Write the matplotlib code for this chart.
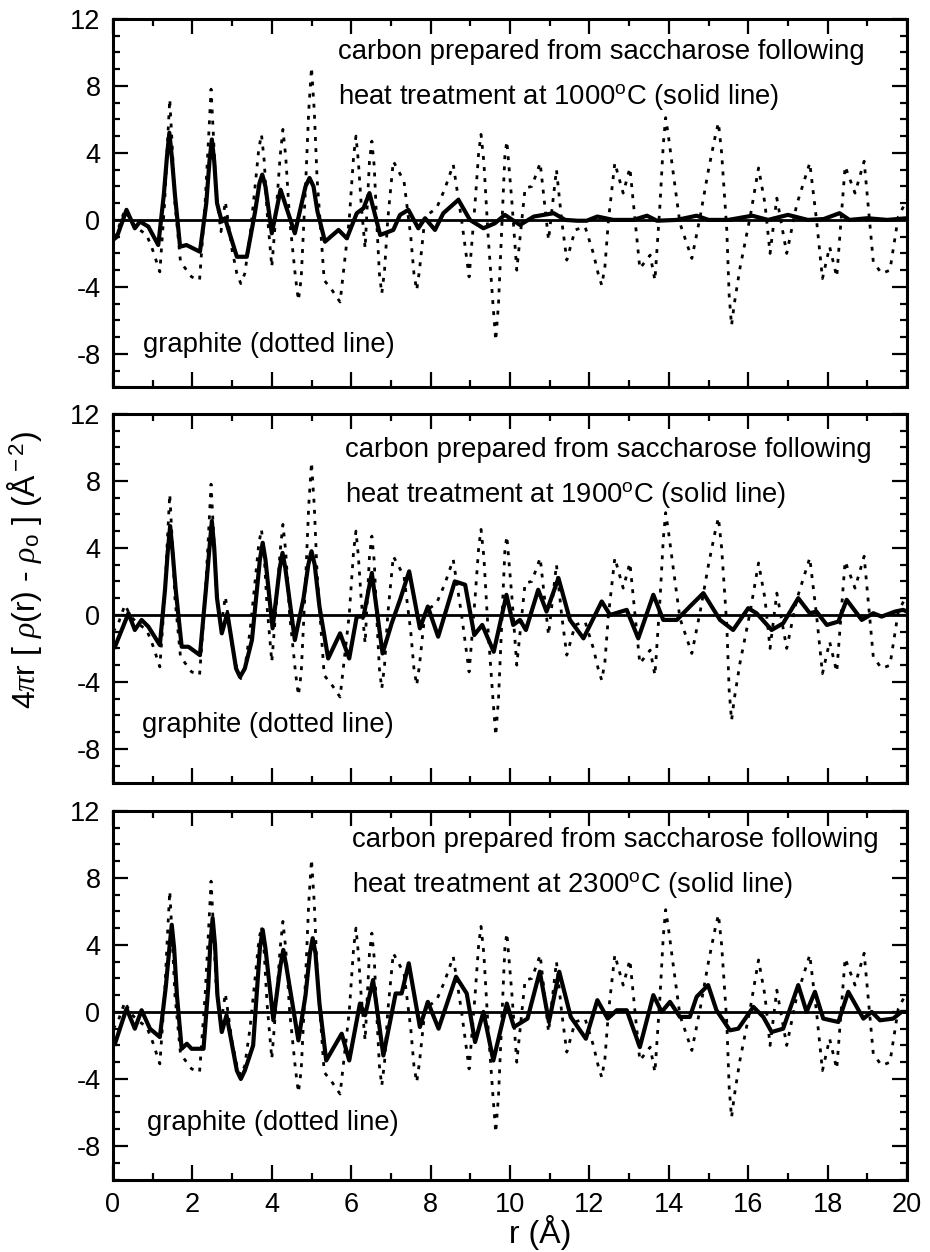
import numpy as np
import matplotlib
matplotlib.use('Agg')
import matplotlib.pyplot as plt
from matplotlib.ticker import MultipleLocator

plt.rcParams['font.family'] = ['Liberation Sans', 'DejaVu Sans']
plt.rcParams['mathtext.fontset'] = 'custom'
plt.rcParams['mathtext.rm'] = 'Liberation Sans'
plt.rcParams['mathtext.it'] = 'Liberation Serif:italic'
plt.rcParams['axes.unicode_minus'] = False

# graphite reference curve (dotted), same in every panel
graphite_r = [0.00, 0.12, 0.30, 0.45, 0.62, 0.85, 1.00, 1.18, 1.30, 1.37, 1.43, 1.49, 1.56, 1.70,
              1.98, 2.18, 2.32, 2.41, 2.47, 2.53, 2.60, 2.72, 2.83, 3.00, 3.12, 3.22, 3.32, 3.45,
              3.60, 3.67, 3.74, 3.81, 3.88, 4.00, 4.12, 4.21, 4.28, 4.35, 4.45, 4.60, 4.67, 4.74,
              4.85, 4.93, 5.00, 5.07, 5.14, 5.32, 5.52, 5.72, 5.95, 6.06, 6.12, 6.18, 6.25, 6.35,
              6.46, 6.52, 6.58, 6.64, 6.71, 6.77, 6.84, 6.92, 7.06, 7.33, 7.50, 7.58, 7.65, 7.72,
              7.86, 8.15, 8.35, 8.57, 8.78, 8.97, 9.12, 9.21, 9.27, 9.34, 9.45, 9.57, 9.64, 9.71,
              9.80, 9.87, 9.92, 10.05, 10.17, 10.38, 10.55, 10.76, 10.97, 11.17, 11.30, 11.43,
              11.64, 11.89, 12.10, 12.22, 12.31, 12.39, 12.48, 12.64, 12.85, 13.02, 13.15, 13.27,
              13.53, 13.65, 13.78, 13.86, 13.92, 13.99, 14.10, 14.28, 14.58, 14.79, 15.00, 15.17,
              15.25, 15.33, 15.46, 15.52, 15.58, 15.65, 15.79, 16.05, 16.26, 16.42, 16.55, 16.72,
              16.97, 17.22, 17.55, 17.72, 17.87, 18.05, 18.23, 18.44, 18.69, 18.92, 19.15, 19.36,
              19.57, 19.78, 20.00]
graphite_g = [-1.0, -0.6, 0.6, -0.1, -0.5, -0.9, -1.8, -3.1, 1.0, 4.5, 7.2, 4.5, 1.0, -2.5,
              -3.4, -3.6, 1.0, 5.0, 7.8, 5.0, 1.5, -0.7, 1.1, -1.8, -3.2, -3.8, -3.2, -1.0,
              2.5, 4.2, 5.1, 3.5, 0.5, -2.8, 0.8, 3.8, 5.4, 3.8, 0.0, -3.5, -4.8, -3.5,
              2.0, 6.5, 9.1, 6.5, 2.5, -3.6, -4.2, -4.9, 0.0, 3.8, 5.0, 3.5, 1.0, -1.7,
              3.5, 4.7, 3.2, 0.0, -3.2, -4.4, -3.0, 0.0, 3.5, 2.3, -1.0, -3.2, -4.2, -3.0,
              0.2, 0.7, 1.8, 3.3, 0.0, -3.4, 1.0, 4.0, 5.1, 3.5, -1.0, -5.0, -7.2, -5.0,
              0.0, 3.8, 4.7, 1.0, -3.0, 1.9, 2.0, 3.4, -1.2, 3.0, 0.0, -2.4,
              -0.6, -0.4, -2.0, -3.2, -3.9, -2.8, 0.0, 3.4, 1.6, 3.1, 0.0, -2.9,
              -2.1, -3.6, 1.0, 4.5, 6.1, 5.0, 3.0, -0.2, -2.3, 0.2, 3.0, 5.0,
              5.8, 4.0, -0.6, -4.5, -6.3, -5.0, -2.9, 0.2, 3.1, 1.0, -2.0, 1.3,
              -2.0, 0.9, 3.4, 0.0, -3.5, -1.6, -3.4, 3.2, 1.6, 3.5, -2.5, -3.2,
              -3.0, 0.2, 1.2]

# carbon heat treated at 1000 C (solid)
c1000_r = [0.00, 0.10, 0.34, 0.55, 0.68, 0.89, 1.14, 1.28, 1.36, 1.42, 1.48, 1.56, 1.69, 1.85,
           2.19, 2.35, 2.43, 2.49, 2.55, 2.62, 2.74, 2.82, 3.12, 3.37, 3.58, 3.69, 3.76, 3.84,
           4.00, 4.22, 4.58, 4.85, 4.95, 5.05, 5.15, 5.34, 5.68, 5.89, 6.14, 6.31, 6.46, 6.73,
           7.06, 7.23, 7.44, 7.69, 7.86, 8.11, 8.32, 8.70, 8.99, 9.33, 9.62, 9.87, 10.25, 10.60,
           11.10, 11.39, 11.70, 11.93, 12.20, 12.60, 13.11, 13.45, 13.70, 14.20, 14.70, 15.00,
           15.50, 16.10, 16.50, 17.00, 17.50, 17.90, 18.30, 18.55, 19.00, 19.50, 20.00]
c1000_g = [-1.2, -1.0, 0.6, -0.5, -0.1, -0.4, -1.5, 1.5, 3.8, 5.2, 3.8, 1.5, -1.6, -1.5,
           -1.9, 1.0, 3.5, 4.8, 3.5, 1.0, -0.1, 0.1, -2.2, -2.2, 0.5, 2.2, 2.7, 2.0,
           -0.8, 1.8, -0.8, 2.0, 2.5, 2.0, 0.5, -1.3, -0.6, -1.1, 0.4, 0.7, 1.6, -0.9,
           -0.6, 0.3, 0.6, -0.5, 0.1, -0.6, 0.4, 1.2, 0.0, -0.5, -0.2, 0.3, -0.3, 0.2,
           0.4, 0.0, -0.05, -0.05, 0.2, 0.0, 0.0, 0.25, -0.05, 0.0, 0.25, 0.0,
           0.0, 0.25, 0.0, 0.3, 0.0, 0.05, 0.4, 0.0, 0.1, 0.0, 0.1]

# carbon heat treated at 1900 C (solid)
c1900_r = [0.05, 0.39, 0.55, 0.72, 0.89, 1.18, 1.31, 1.38, 1.44, 1.50, 1.58, 1.73, 1.90, 2.19,
           2.34, 2.43, 2.49, 2.55, 2.62, 2.74, 2.88, 3.10, 3.20, 3.32, 3.50, 3.70, 3.77, 3.84,
           4.02, 4.20, 4.27, 4.34, 4.58, 4.80, 4.92, 5.00, 5.08, 5.20, 5.42, 5.72, 5.95, 6.14,
           6.31, 6.52, 6.79, 7.02, 7.23, 7.46, 7.73, 7.93, 8.19, 8.61, 8.87, 9.10, 9.30, 9.59,
           9.91, 10.08, 10.25, 10.40, 10.71, 10.92, 11.22, 11.51, 11.85, 12.31, 12.52, 12.94,
           13.23, 13.61, 13.86, 14.20, 14.53, 14.87, 15.29, 15.62, 16.00, 16.21, 16.59, 16.88,
           17.26, 17.55, 17.72, 17.98, 18.27, 18.48, 18.86, 19.15, 19.36, 19.70, 19.90, 20.00]
c1900_g = [-1.9, 0.1, -0.9, -0.3, -0.7, -1.8, 1.5, 3.8, 5.3, 3.8, 1.5, -1.9, -1.9, -2.4,
           1.5, 4.0, 5.6, 4.0, 1.0, -1.1, 0.1, -3.2, -3.7, -3.2, -1.5, 3.3, 4.3, 3.3,
           -0.8, 2.8, 3.7, 2.8, -1.5, 1.0, 3.0, 3.8, 3.0, 0.5, -2.6, -1.1, -2.6, -0.1,
           -0.1, 2.5, -2.3, -0.5, 0.9, 2.6, -0.8, 0.5, -1.3, 2.0, 1.8, -1.2, -0.6, -2.2,
           1.2, -0.6, -0.3, -0.9, 1.5, 0.2, 2.2, -0.3, -1.4, 0.8, 0.0, 0.3,
           -1.4, 1.2, -0.3, -0.3, 0.5, 1.3, -0.3, -0.9, 0.4, 0.1, -0.9, -0.5,
           1.0, 0.1, 0.2, -0.6, -0.4, 0.9, -0.3, 0.1, -0.1, 0.2, 0.3, 0.2]

# carbon heat treated at 2300 C (solid)
c2300_r = [0.05, 0.34, 0.55, 0.72, 0.93, 1.18, 1.33, 1.42, 1.48, 1.54, 1.61, 1.73, 1.86, 1.98,
           2.28, 2.40, 2.45, 2.51, 2.57, 2.63, 2.74, 2.86, 3.12, 3.22, 3.32, 3.53, 3.70, 3.77,
           3.84, 4.04, 4.22, 4.29, 4.36, 4.67, 4.85, 4.96, 5.03, 5.10, 5.20, 5.37, 5.76, 5.95,
           6.22, 6.35, 6.55, 6.81, 7.12, 7.27, 7.45, 7.73, 7.93, 8.20, 8.64, 8.91, 9.12, 9.33,
           9.58, 9.92, 10.10, 10.44, 10.75, 10.98, 11.24, 11.53, 11.91, 12.20, 12.46, 12.69,
           12.94, 13.27, 13.61, 13.82, 14.03, 14.28, 14.53, 14.70, 14.99, 15.20, 15.54, 15.75,
           16.13, 16.38, 16.59, 16.88, 17.26, 17.47, 17.68, 17.89, 18.27, 18.52, 18.90, 19.11,
           19.32, 19.65, 19.86, 20.00]
c2300_g = [-1.9, 0.2, -1.0, 0.1, -1.0, -1.5, 1.5, 3.8, 5.2, 3.8, 1.0, -2.2, -1.9, -2.2,
           -2.2, 1.5, 4.0, 5.6, 4.0, 1.0, -1.2, -0.2, -3.5, -4.0, -3.5, -2.0, 3.8, 4.9,
           3.8, -0.5, 2.8, 3.7, 2.8, -1.7, 1.0, 3.5, 4.4, 3.5, 0.5, -2.9, -1.3, -2.9,
           0.5, -0.2, 1.9, -2.6, 1.1, 1.1, 2.9, -0.9, 0.6, -1.0, 2.1, 1.1, -1.8, 0.0,
           -2.9, 0.5, -0.9, -0.4, 2.4, -0.6, 2.4, -0.3, -1.6, 0.7, -0.4, 0.1,
           0.1, -2.1, 1.0, 0.0, 0.6, -0.3, -0.3, 0.9, 1.6, 0.1, -1.1, -1.0,
           0.3, -0.3, -1.2, -1.0, 1.6, 0.0, 1.2, -0.4, -0.6, 1.2, -0.4, 0.0,
           -0.5, -0.4, 0.0, 0.0]

temps = ['1000', '1900', '2300']
solid_r = [c1000_r, c1900_r, c2300_r]
solid_g = [c1000_g, c1900_g, c2300_g]
# text positions (data coords)
carbon_xy = [(5.67, 10.0), (5.84, 9.85), (6.01, 10.27)]
heat_dy = [2.66, 2.69, 2.69]
graphite_xy = [(0.76, -7.46), (0.73, -6.57), (0.85, -6.63)]

fig = plt.figure(figsize=(9.3, 12.52), dpi=100)
bottoms = [0.6905, 0.375, 0.0579]

for i in range(3):
    ax = fig.add_axes([0.1215, bottoms[i], 0.8538, 0.2945])
    ax.plot(graphite_r, graphite_g, color='black', linestyle=(0, (1.4, 2.6)), linewidth=2.0)
    ax.axhline(0, color='black', linewidth=2.0)
    ax.plot(solid_r[i], solid_g[i], color='black', linewidth=3.0, solid_joinstyle='round')
    ax.set_xlim(0, 20)
    ax.set_ylim(-10, 12)
    ax.xaxis.set_major_locator(MultipleLocator(2))
    ax.xaxis.set_minor_locator(MultipleLocator(1))
    ax.yaxis.set_minor_locator(MultipleLocator(1))
    ax.set_yticks([-8, -4, 0, 4, 8, 12])
    ax.tick_params(which='both', direction='in', top=True, right=True, width=1.6)
    ax.tick_params(which='major', length=11, labelsize=19.5, pad=9)
    ax.tick_params(which='minor', length=5)
    for s in ax.spines.values():
        s.set_linewidth(2.2)
    if i < 2:
        ax.set_xticklabels([])
    cx, cy = carbon_xy[i]
    ax.text(cx, cy, 'carbon prepared from saccharose following', fontsize=19.8,
            va='center', ha='left')
    ax.text(cx, cy - heat_dy[i], 'heat treatment at ' + temps[i] + r'$^{\rm o}$C (solid line)',
            fontsize=19.8, va='center', ha='left')
    gx, gy = graphite_xy[i]
    ax.text(gx, gy, 'graphite (dotted line)', fontsize=19.8, va='center', ha='left')

fig.text(24/930, 1 - 570/1252, r'4$\it{\pi}$r [ $\rho$(r) - $\rho_{\rm o}$ ] (Å$^{\rm -2}$)',
         rotation=90, fontsize=23, ha='center', va='center')
fig.text(540/930, 1 - 1233/1252, 'r (Å)', fontsize=23, ha='center', va='center')

plt.savefig('out.png', dpi=100)
